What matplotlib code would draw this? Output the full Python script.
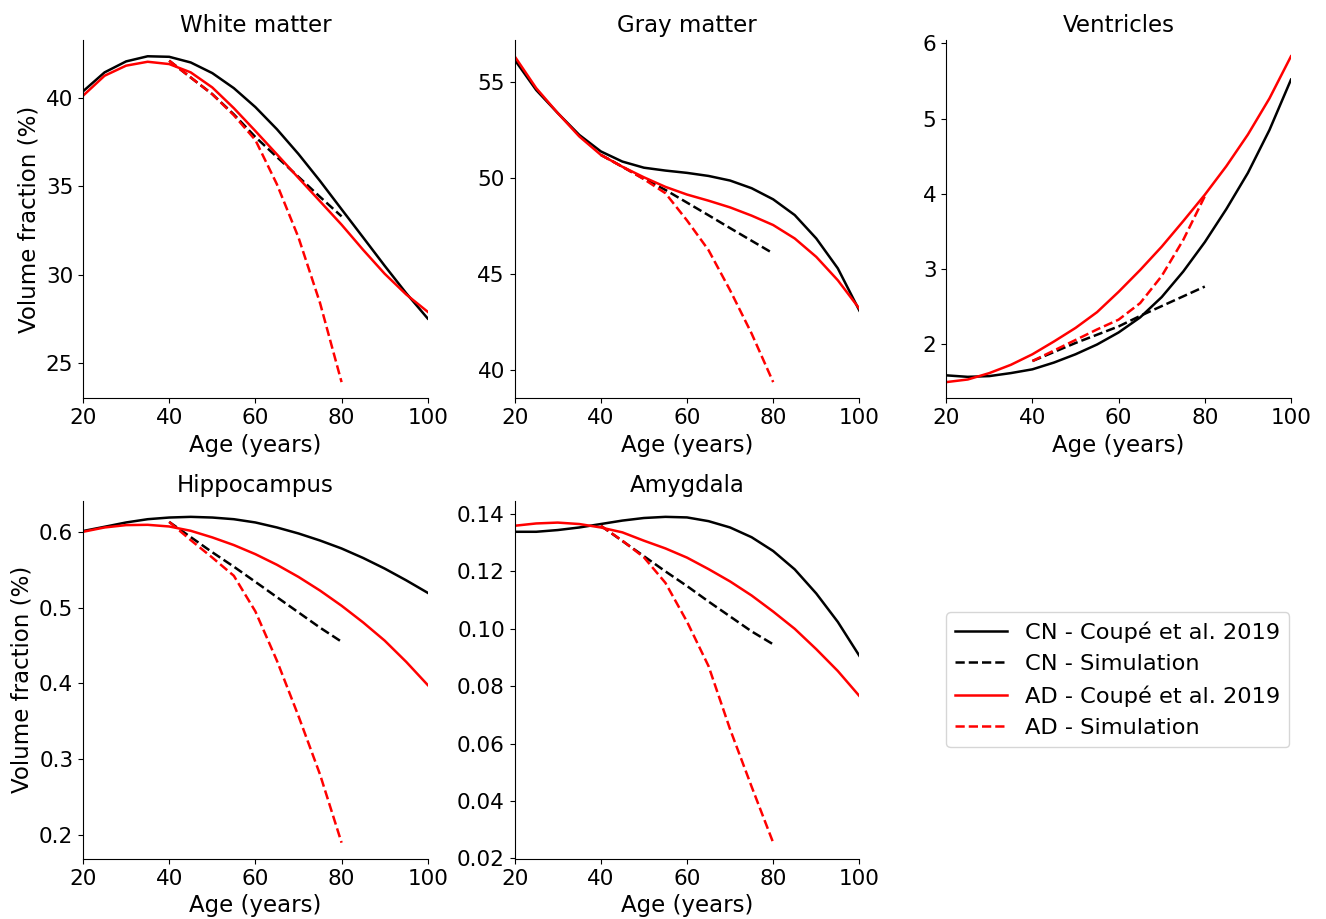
import matplotlib
matplotlib.use("Agg")
import matplotlib.pyplot as plt
from matplotlib.ticker import MultipleLocator

# ── Data ─────────────────────────────────────────────────────────────────────
AGE_FULL = [20, 25, 30, 35, 40, 45, 50, 55, 60, 65, 70, 75, 80, 85, 90, 95, 100]
AGE_SIM  = [40, 45, 50, 55, 60, 65, 70, 75, 80]

wm_cn     = [40.35, 41.42, 42.04, 42.33, 42.30, 41.98, 41.38, 40.53, 39.46, 38.21,
             36.81, 35.29, 33.69, 32.1, 30.5, 28.95, 27.52]
wm_ad     = [40.1, 41.23, 41.8, 42.02, 41.89, 41.42, 40.57, 39.4, 38.11, 36.79,
             35.46, 34.14, 32.82, 31.4, 30.05, 28.88, 27.9]
wm_cn_sim = [42.08, 41.13, 40.19, 39.05, 37.77, 36.64, 35.52, 34.39, 33.29]
wm_ad_sim = [42.08, 41.13, 40.19, 39.0, 37.6, 35.1, 32.1, 28.4, 23.93]

gm_cn     = [56.18, 54.6, 53.4, 52.26, 51.4, 50.87, 50.55, 50.4, 50.28, 50.12,
             49.88, 49.48, 48.9, 48.08, 46.86, 45.3, 43.1]
gm_ad     = [56.36, 54.7, 53.4, 52.18, 51.22, 50.6, 50.05, 49.55, 49.15, 48.83,
             48.48, 48.05, 47.56, 46.86, 45.9, 44.68, 43.2]
gm_cn_sim = [51.22, 50.6, 49.97, 49.39, 48.73, 48.07, 47.4, 46.74, 46.08]
gm_ad_sim = [51.22, 50.6, 49.95, 49.22, 47.8, 46.25, 44.16, 41.9, 39.37]

ve_cn     = [1.59, 1.57, 1.58, 1.62, 1.67, 1.76, 1.87, 2.0, 2.16, 2.36,
             2.63, 2.97, 3.36, 3.8, 4.28, 4.85, 5.52]
ve_ad     = [1.5, 1.535, 1.62, 1.73, 1.87, 2.04, 2.22, 2.43, 2.7, 2.99,
             3.3, 3.64, 3.99, 4.37, 4.79, 5.27, 5.83]
ve_cn_sim = [1.78, 1.9, 2.02, 2.13, 2.24, 2.38, 2.51, 2.64, 2.77]
ve_ad_sim = [1.78, 1.92, 2.06, 2.2, 2.33, 2.55, 2.91, 3.39, 3.97]

hc_cn     = [0.601, 0.6066, 0.6123, 0.6166, 0.6188, 0.6197, 0.6188, 0.6166, 0.6123,
             0.6057, 0.5978, 0.5885, 0.578, 0.5655, 0.5515, 0.536, 0.5195]
hc_ad     = [0.6, 0.6057, 0.6088, 0.6092, 0.607, 0.6013, 0.5926, 0.5825, 0.5705,
             0.5565, 0.5405, 0.5225, 0.5025, 0.4805, 0.4565, 0.4285, 0.3979]
hc_cn_sim = [0.613, 0.593, 0.573, 0.554, 0.534, 0.5138, 0.4937, 0.4736, 0.455]
hc_ad_sim = [0.613, 0.589, 0.566, 0.542, 0.495, 0.43, 0.357, 0.28, 0.19]

am_cn     = [0.1338, 0.1338, 0.1344, 0.1353, 0.1365, 0.1377, 0.1386, 0.139, 0.1388,
             0.1375, 0.1353, 0.1319, 0.1271, 0.1207, 0.1123, 0.1024, 0.0906]
am_ad     = [0.1359, 0.1367, 0.137, 0.1365, 0.1353, 0.1336, 0.1307, 0.128, 0.1248,
             0.1208, 0.1165, 0.1116, 0.106, 0.1, 0.0929, 0.0853, 0.0766]
am_cn_sim = [0.1359, 0.1306, 0.1253, 0.12, 0.1149, 0.1095, 0.1043, 0.0991, 0.0946]
am_ad_sim = [0.1359, 0.1307, 0.1249, 0.116, 0.1025, 0.087, 0.065, 0.045, 0.0255]

panels = [
    ("White matter", wm_cn, wm_cn_sim, wm_ad, wm_ad_sim),
    ("Gray matter",  gm_cn, gm_cn_sim, gm_ad, gm_ad_sim),
    ("Ventricles",   ve_cn, ve_cn_sim, ve_ad, ve_ad_sim),
    ("Hippocampus",  hc_cn, hc_cn_sim, hc_ad, hc_ad_sim),
    ("Amygdala",     am_cn, am_cn_sim, am_ad, am_ad_sim),
]

FS_LABEL = 16.5
FS_TICK  = 15.5
LW = 1.8

fig, axes = plt.subplots(2, 3, figsize=(13.26, 9.19), dpi=100)
fig.subplots_adjust(left=0.0626, right=0.9736, top=0.9565, bottom=0.0653,
                    wspace=0.252, hspace=0.285)
axes = axes.ravel()

for i, (title, cn, cn_sim, ad, ad_sim) in enumerate(panels):
    ax = axes[i]
    ax.plot(AGE_FULL, cn,     color="black", lw=LW, label="CN - Coupé et al. 2019")
    ax.plot(AGE_SIM,  cn_sim, color="black", lw=LW, ls="--", label="CN - Simulation")
    ax.plot(AGE_FULL, ad,     color="red",   lw=LW, label="AD - Coupé et al. 2019")
    ax.plot(AGE_SIM,  ad_sim, color="red",   lw=LW, ls="--", label="AD - Simulation")
    ax.set_xlim(20, 100)
    ax.set_xticks([20, 40, 60, 80, 100])
    ax.set_title(title, fontsize=FS_LABEL)
    ax.set_xlabel("Age (years)", fontsize=FS_LABEL)
    if i % 3 == 0:
        ax.set_ylabel("Volume fraction (%)", fontsize=FS_LABEL)
    ax.tick_params(labelsize=FS_TICK)
    ax.spines["top"].set_visible(False)
    ax.spines["right"].set_visible(False)

axes[1].yaxis.set_major_locator(MultipleLocator(5))

axes[5].axis("off")
handles, labels = axes[0].get_legend_handles_labels()
axes[5].legend(handles, labels, loc="center left", bbox_to_anchor=(0, 0.5),
               borderaxespad=0, fontsize=16.2, handlelength=2.3)

plt.savefig("out.png", dpi=100)
